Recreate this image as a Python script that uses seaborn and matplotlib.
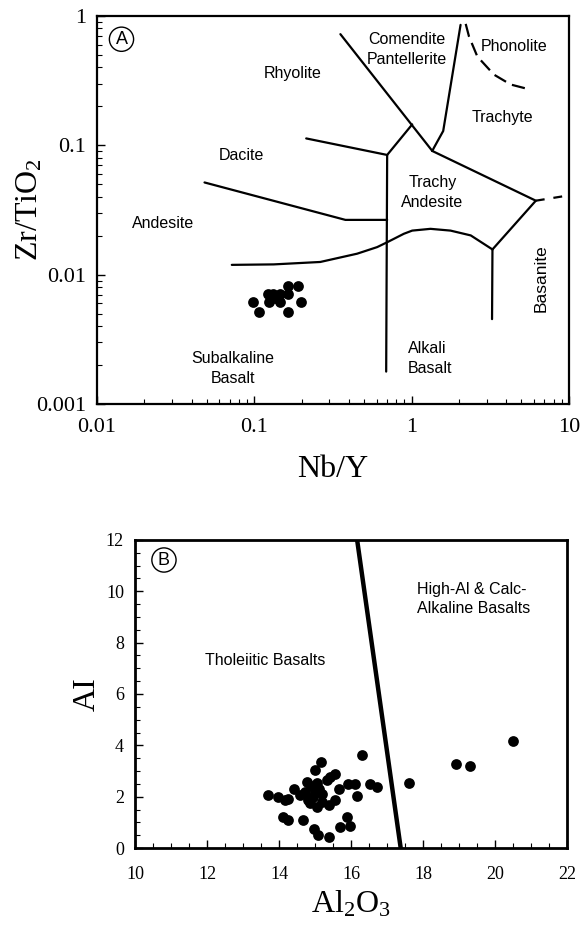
import matplotlib
matplotlib.use("Agg")
import matplotlib.pyplot as plt
import seaborn as sns
import pandas as pd
from matplotlib.ticker import FixedLocator, FixedFormatter, MultipleLocator, NullFormatter, LogLocator

# ---------------- Panel A data (Nb/Y vs Zr/TiO2) ----------------
nby = [0.098, 0.108, 0.122, 0.131, 0.146, 0.163, 0.189, 0.125, 0.146, 0.163, 0.198, 0.163, 0.136]
zrti = [0.0061, 0.0051, 0.00705, 0.00705, 0.00705, 0.00818, 0.00818, 0.0061, 0.0061, 0.00705, 0.0061, 0.0051, 0.0066]

rhy_x = [0.353, 1.355]
rhy_y = [0.723, 0.0904]
dac_x = [0.214, 0.70, 1.01]
dac_y = [0.113, 0.0842, 0.145]
vert_x = [0.70, 0.69]
vert_y = [0.0842, 0.00178]
and_x = [0.0483, 0.380, 0.70]
and_y = [0.0516, 0.0265, 0.0265]
sub_x = [0.072, 0.133, 0.263, 0.451, 0.605, 0.70, 0.894, 1.01, 1.32, 1.77, 2.38, 3.27]
sub_y = [0.0119, 0.0120, 0.01253, 0.01452, 0.01633, 0.0178, 0.0207, 0.0219, 0.0226, 0.0219, 0.0201, 0.01566]
alk_x = [3.27, 3.25]
alk_y = [0.01566, 0.00453]
bas_x = [3.27, 6.17, 1.355]
bas_y = [0.01566, 0.0373, 0.0904]
tra_x = [1.355, 1.39, 1.59, 2.05]
tra_y = [0.0904, 0.096, 0.129, 0.853]
ext_x = [6.17, 10.0]
ext_y = [0.0373, 0.041]
pho_x = [2.21, 2.32, 2.62, 3.34, 4.27, 5.46]
pho_y = [0.868, 0.693, 0.486, 0.352, 0.295, 0.273]

# ---------------- Panel B data (Al2O3 vs AI) ----------------
al2o3 = [13.70, 13.98, 14.17, 14.26, 14.43, 14.58, 14.72, 14.77, 14.81, 14.86, 15.00, 15.17,
         15.05, 14.95, 15.05, 15.19, 15.32, 15.42, 15.56, 15.56, 15.39, 15.67, 15.93, 16.11,
         16.16, 16.30, 16.53, 16.71, 14.12, 14.26, 14.68, 14.98, 15.07, 15.39, 15.69, 15.88,
         15.97, 17.62, 18.92, 19.31, 20.51, 15.10, 15.20, 14.90, 15.00]
ai = [2.06, 1.99, 1.86, 1.90, 2.28, 2.06, 2.19, 2.58, 1.86, 1.74, 3.03, 3.35,
      2.54, 1.99, 1.60, 2.12, 2.64, 2.77, 2.87, 1.86, 1.67, 2.29, 2.51, 2.51,
      2.03, 3.61, 2.51, 2.36, 1.19, 1.11, 1.11, 0.73, 0.50, 0.44, 0.83, 1.22,
      0.85, 2.55, 3.29, 3.18, 4.16, 2.30, 1.80, 2.40, 2.20]
div_x = [16.17, 17.38]
div_y = [12.0, 0.0]

sns.set_style("ticks")
plt.rcParams['font.family'] = ['Liberation Serif', 'DejaVu Serif']
plt.rcParams['mathtext.fontset'] = 'custom'
plt.rcParams['mathtext.rm'] = 'Liberation Serif'
plt.rcParams['mathtext.it'] = 'Liberation Serif:italic'
for k in ['text.color', 'axes.labelcolor', 'xtick.color', 'ytick.color', 'axes.edgecolor']:
    plt.rcParams[k] = 'black'

SANS = ['Liberation Sans', 'DejaVu Sans']

fig = plt.figure(figsize=(5.84, 9.27), dpi=100)
axA = fig.add_axes([0.166, 0.5642, 0.808, 0.4186])
axB = fig.add_axes([0.2312, 0.0852, 0.7397, 0.3323])

# ---------- Panel A ----------
dfA = pd.DataFrame({'x': nby, 'y': zrti})
sns.scatterplot(data=dfA, x='x', y='y', ax=axA, color='black', s=60, edgecolor='black', linewidth=0, zorder=5)
lw = 1.6
for xs, ys in [(rhy_x, rhy_y), (dac_x, dac_y), (vert_x, vert_y), (and_x, and_y), (sub_x, sub_y),
               (alk_x, alk_y), (bas_x, bas_y), (tra_x, tra_y)]:
    axA.plot(xs, ys, color='black', lw=lw, solid_joinstyle='miter')
axA.plot(ext_x, ext_y, color='black', lw=lw, linestyle=(0, (4, 4)))
axA.plot(pho_x, pho_y, color='black', lw=lw, linestyle=(0, (6, 3)))

axA.set_xscale('log')
axA.set_yscale('log')
axA.set_xlim(0.01, 10)
axA.set_ylim(0.001, 1)
axA.xaxis.set_major_locator(FixedLocator([0.01, 0.1, 1, 10]))
axA.xaxis.set_major_formatter(FixedFormatter(['0.01', '0.1', '1', '10']))
axA.yaxis.set_major_locator(FixedLocator([0.001, 0.01, 0.1, 1]))
axA.yaxis.set_major_formatter(FixedFormatter(['0.001', '0.01', '0.1', '1']))
axA.xaxis.set_minor_locator(LogLocator(base=10, subs=range(2, 10)))
axA.yaxis.set_minor_locator(LogLocator(base=10, subs=range(2, 10)))
axA.xaxis.set_minor_formatter(NullFormatter())
axA.yaxis.set_minor_formatter(NullFormatter())
axA.tick_params(axis='both', which='both', bottom=True, left=True, top=False, right=False)
axA.tick_params(axis='both', which='major', direction='in', length=6, width=1.0, labelsize=16, pad=8)
axA.tick_params(axis='x', which='major', pad=10)
axA.tick_params(axis='both', which='minor', direction='in', length=3.5, width=0.8)
axA.set_xlabel('Nb/Y', fontsize=23, labelpad=13)
axA.set_ylabel('Zr/TiO$_\\mathregular{2}$', fontsize=23, labelpad=-6)
for sp in axA.spines.values():
    sp.set_linewidth(1.6)
    sp.set_color('black')

fs = 11.5
ls = 1.4
axA.text(0.176, 0.362, 'Rhyolite', family=SANS, fontsize=fs, ha='center', va='center')
axA.text(0.93, 0.55, 'Comendite\nPantellerite', family=SANS, fontsize=fs, ha='center', va='center', linespacing=ls)
axA.text(4.49, 0.58, 'Phonolite', family=SANS, fontsize=fs, ha='center', va='center')
axA.text(3.78, 0.163, 'Trachyte', family=SANS, fontsize=fs, ha='center', va='center')
axA.text(0.0835, 0.0827, 'Dacite', family=SANS, fontsize=fs, ha='center', va='center')
axA.text(1.355, 0.0433, 'Trachy\nAndesite', family=SANS, fontsize=fs, ha='center', va='center', linespacing=ls)
axA.text(0.0264, 0.0247, 'Andesite', family=SANS, fontsize=fs, ha='center', va='center')
axA.text(6.64, 0.0094, 'Basanite', family=SANS, fontsize=fs + 1, ha='center', va='center', rotation=90)
axA.text(0.0731, 0.00187, 'Subalkaline\nBasalt', family=SANS, fontsize=fs, ha='center', va='center', linespacing=ls)
axA.text(0.946, 0.00226, 'Alkali\nBasalt', family=SANS, fontsize=fs, ha='left', va='center', linespacing=ls)
axA.text(0.052, 0.94, 'A', transform=axA.transAxes, family=SANS, fontsize=13, ha='center', va='center',
         bbox=dict(boxstyle='circle,pad=0.2', fc='white', ec='black', lw=1.0))

# ---------- Panel B ----------
dfB = pd.DataFrame({'x': al2o3, 'y': ai})
sns.scatterplot(data=dfB, x='x', y='y', ax=axB, color='black', s=60, edgecolor='black', linewidth=0, zorder=5)
axB.plot(div_x, div_y, color='black', lw=3.2)
axB.set_xlim(10, 22)
axB.set_ylim(0, 12)
axB.xaxis.set_major_locator(MultipleLocator(2))
axB.yaxis.set_major_locator(MultipleLocator(2))
axB.xaxis.set_minor_locator(MultipleLocator(0.5))
axB.yaxis.set_minor_locator(MultipleLocator(0.5))
axB.tick_params(axis='both', which='both', bottom=True, left=True, top=False, right=False)
axB.tick_params(axis='both', which='major', direction='in', length=6, width=1.0, labelsize=13, pad=8)
axB.tick_params(axis='x', which='major', pad=13)
axB.tick_params(axis='both', which='minor', direction='in', length=3.5, width=0.8)
axB.set_xlabel('Al$_\\mathregular{2}$O$_\\mathregular{3}$', fontsize=23, labelpad=4)
axB.set_ylabel('AI', fontsize=23, labelpad=3)
for sp in axB.spines.values():
    sp.set_linewidth(2.0)
    sp.set_color('black')

axB.text(13.61, 7.3, 'Tholeiitic Basalts', family=SANS, fontsize=fs, ha='center', va='center')
axB.text(17.83, 9.7, 'High-Al & Calc-\nAlkaline Basalts', family=SANS, fontsize=fs, ha='left', va='center', linespacing=1.4)
axB.text(0.067, 0.935, 'B', transform=axB.transAxes, family=SANS, fontsize=13, ha='center', va='center',
         bbox=dict(boxstyle='circle,pad=0.2', fc='white', ec='black', lw=1.0))

fig.savefig('out.png', dpi=100)
